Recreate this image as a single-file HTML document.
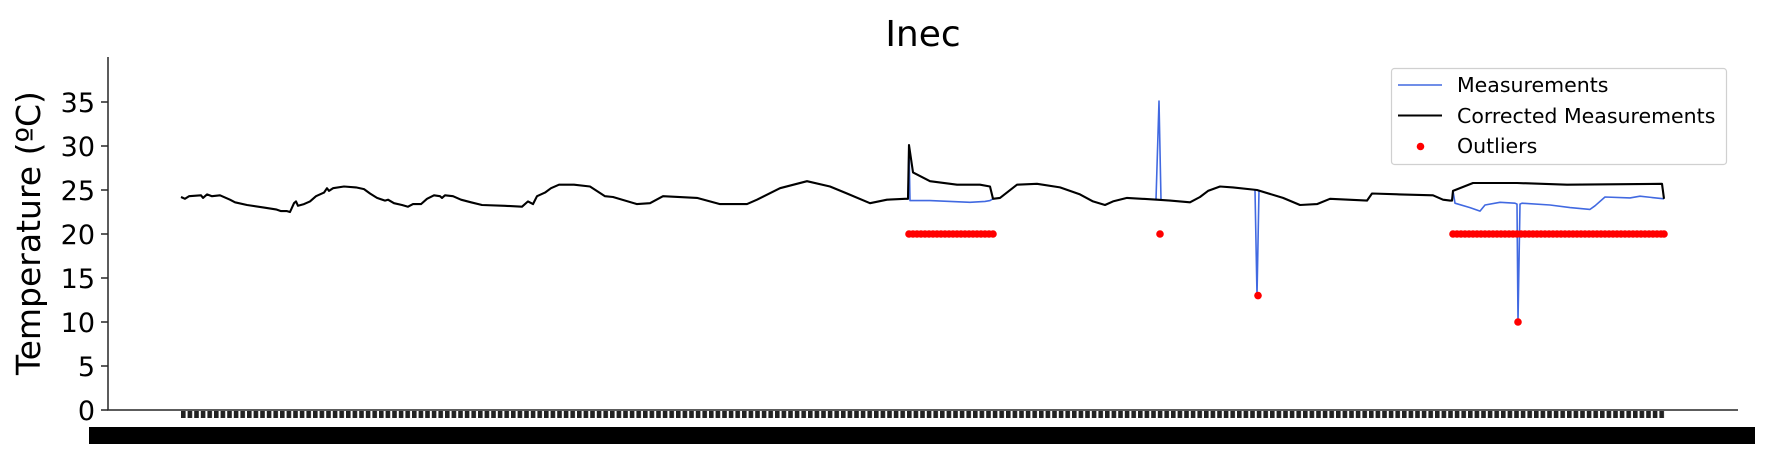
<!DOCTYPE html>
<html><head><meta charset="utf-8"><style>
html,body{margin:0;padding:0;background:#fff;}
svg{display:block;font-family:"DejaVu Sans","Liberation Sans",sans-serif;}
</style></head><body>
<svg id="chart" width="1772" height="461" viewBox="0 0 1772 461">
<defs>
<pattern id="tickpat" x="181" y="0" width="6.6" height="10" patternUnits="userSpaceOnUse">
<rect x="0" y="0" width="4.6" height="10" fill="#222"/>
</pattern>
</defs>
<text x="923" y="46" font-size="36" text-anchor="middle" fill="#000">Inec</text>
<text transform="translate(40,233) rotate(-90)" font-size="33" text-anchor="middle" fill="#000">Temperature (ºC)</text>
<g id="yaxis"></g>
<rect x="181" y="411" width="1484" height="7" fill="url(#tickpat)"/>
<rect x="89" y="427" width="1666" height="17" fill="#000"/>
<text x="89" y="443" font-size="18" fill="#000">2</text>
<line x1="108" y1="57" x2="108" y2="410.5" stroke="#262626" stroke-width="1.5"/>
<line x1="107.3" y1="410" x2="1738" y2="410" stroke="#262626" stroke-width="1.5"/>
<g id="plot"></g>
<g>
<rect x="1391.5" y="68.5" width="335" height="96" rx="3" fill="#fff" fill-opacity="0.8" stroke="#d0d0d0" stroke-width="1.2"/>
<line x1="1398" y1="85" x2="1442" y2="85" stroke="#4169e1" stroke-width="1.6"/>
<text x="1457" y="92" font-size="20.5" fill="#000">Measurements</text>
<line x1="1398" y1="115.5" x2="1442" y2="115.5" stroke="#000" stroke-width="2"/>
<text x="1457" y="123" font-size="20.5" fill="#000">Corrected Measurements</text>
<circle cx="1420.5" cy="146.5" r="3.8" fill="#ff0000"/>
<text x="1457" y="153" font-size="20.5" fill="#000">Outliers</text>
</g>
</svg>
<script>
const yTicks = [0,5,10,15,20,25,30,35];
const corrT = [0,4,8,20,22,26,31,39,49,54,66,83,95,100,106,109,113,115,117,123,129,135,143,146,148,152,163,175,183,189,196,204,207,213,221,227,232,240,246,253,259,261,264,272,280,290,301,324,341,347,352,356,364,370,378,393,409,424,432,456,469,482,516,539,566,576,599,626,649,666,689,706,724,727,728,732,749,776,799,809,812,819,836,856,879,899,912,924,932,946,976,989,1009,1019,1027,1039,1052,1076,1102,1119,1136,1149,1186,1191,1219,1252,1262,1269,1271,1272,1292,1336,1386,1481,1483];
const corrV = [24.2,24.0,24.3,24.4,24.1,24.5,24.3,24.4,23.9,23.6,23.3,23.0,22.8,22.6,22.6,22.5,23.5,23.7,23.2,23.4,23.7,24.3,24.7,25.2,24.9,25.2,25.4,25.3,25.1,24.6,24.1,23.8,23.9,23.5,23.3,23.1,23.4,23.4,24.0,24.4,24.3,24.1,24.4,24.3,23.9,23.6,23.3,23.2,23.1,23.7,23.4,24.3,24.7,25.2,25.6,25.6,25.4,24.3,24.2,23.4,23.5,24.3,24.1,23.4,23.4,23.9,25.2,26.0,25.4,24.6,23.5,23.9,24.0,24.0,30.1,27.0,26.0,25.6,25.6,25.4,24.0,24.1,25.6,25.7,25.3,24.5,23.7,23.3,23.7,24.1,23.9,23.8,23.6,24.2,24.9,25.4,25.3,25.0,24.1,23.3,23.4,24.0,23.8,24.6,24.5,24.4,23.9,23.8,23.8,24.9,25.8,25.8,25.6,25.7,24.0];
const measA_T = [727,728,729,749,769,789,804,809,812];
const measA_V = [24.0,30.1,23.8,23.8,23.7,23.6,23.7,23.8,24.0];
const measS1_T = [975,978,980];
const measS1_V = [23.9,35.1,23.9];
const measS2_T = [1074,1076,1078];
const measS2_V = [25.0,13.0,25.0];
const measB_T = [1271,1272,1274,1289,1299,1304,1319,1334,1336,1337,1339,1341,1369,1389,1409,1414,1424,1449,1459,1483];
const measB_V = [23.8,24.9,23.5,23.0,22.6,23.3,23.6,23.5,23.4,10.0,23.4,23.5,23.3,23.0,22.8,23.2,24.2,24.1,24.3,24.0];
const outT = [728,732,736,740,744,748,752,756,760,764,768,772,776,780,784,788,792,796,800,804,808,812,979,1077,1272,1276,1280,1284,1288,1292,1296,1300,1304,1308,1312,1316,1320,1324,1328,1332,1336,1337,1340,1344,1348,1352,1356,1360,1364,1368,1372,1376,1380,1384,1388,1392,1396,1400,1404,1408,1412,1416,1420,1424,1428,1432,1436,1440,1444,1448,1452,1456,1460,1464,1468,1472,1476,1480,1483];
const outV = [20,20,20,20,20,20,20,20,20,20,20,20,20,20,20,20,20,20,20,20,20,20,20,13,20,20,20,20,20,20,20,20,20,20,20,20,20,20,20,20,20,10,20,20,20,20,20,20,20,20,20,20,20,20,20,20,20,20,20,20,20,20,20,20,20,20,20,20,20,20,20,20,20,20,20,20,20,20,20];

const NS='http://www.w3.org/2000/svg';
function xs(t){return 181 + t*(1664-181)/1483;}
function ys(v){return 410 - v*8.8;}
const yaxis=document.getElementById('yaxis');
yTicks.forEach(v=>{
  const l=document.createElementNS(NS,'line');
  l.setAttribute('x1',101);l.setAttribute('x2',108);
  l.setAttribute('y1',ys(v));l.setAttribute('y2',ys(v));
  l.setAttribute('stroke','#262626');l.setAttribute('stroke-width','1.5');
  
  
  yaxis.appendChild(l);
  const t=document.createElementNS(NS,'text');
  t.setAttribute('x',95);t.setAttribute('y',ys(v)+10);
  t.setAttribute('text-anchor','end');t.setAttribute('font-size','27');
  t.textContent=v;
  
  
  yaxis.appendChild(t);
});
const plot=document.getElementById('plot');
function poly(T,V,color,w,name){
  const p=document.createElementNS(NS,'polyline');
  p.setAttribute('points',T.map((t,i)=>xs(t).toFixed(1)+','+ys(V[i]).toFixed(1)).join(' '));
  p.setAttribute('fill','none');p.setAttribute('stroke',color);
  p.setAttribute('stroke-width',w);p.setAttribute('stroke-linejoin','round');
  
  
  plot.appendChild(p);
}
poly(measA_T,measA_V,'#4169e1',1.6,'measurements-line-a');
poly(measS1_T,measS1_V,'#4169e1',1.6,'measurements-spike-1');
poly(measS2_T,measS2_V,'#4169e1',1.6,'measurements-spike-2');
poly(measB_T,measB_V,'#4169e1',1.6,'measurements-line-b');
poly(corrT,corrV,'#000',2.1,'corrected-measurements-line');
outT.forEach((t,i)=>{
  const c=document.createElementNS(NS,'circle');
  c.setAttribute('cx',xs(t));c.setAttribute('cy',ys(outV[i]));
  c.setAttribute('r',3.8);c.setAttribute('fill','#ff0000');
  
  
  plot.appendChild(c);
});
</script>
</body></html>
